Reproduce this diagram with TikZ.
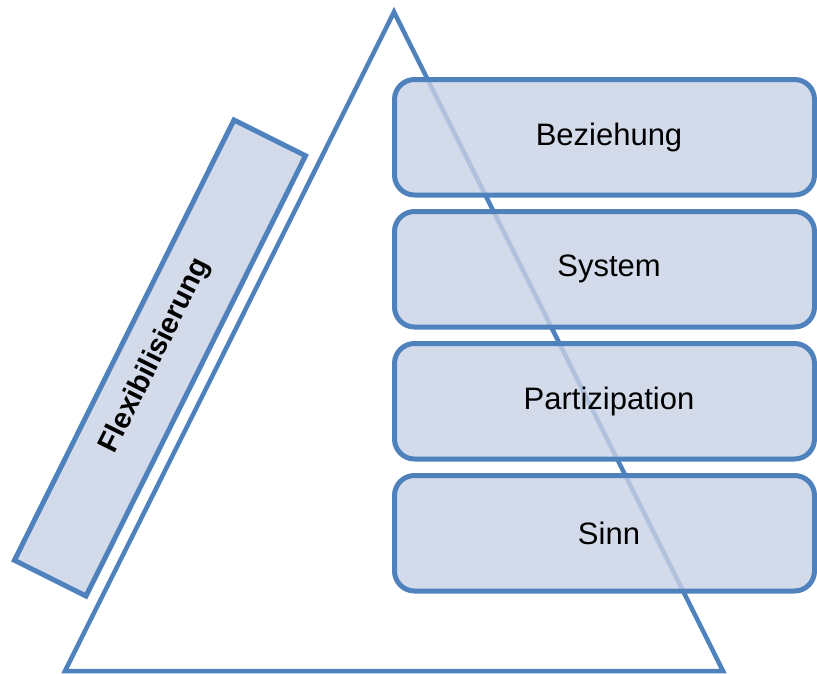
\documentclass[tikz,border=0pt]{standalone}
\usepackage{fontspec}
\setmainfont{Liberation Sans}
\definecolor{edgeblue}{RGB}{79,129,189}
\definecolor{boxfill}{RGB}{200,210,229}
\definecolor{barfill}{RGB}{211,219,234}
\begin{document}
\begin{tikzpicture}[x=1pt,y=-1pt,
  level/.style={draw=edgeblue, line width=5pt, rounded corners=20pt,
    fill=boxfill, fill opacity=0.8, text opacity=1,
    minimum width=420pt, minimum height=115.5pt, inner sep=0pt,
    font=\fontsize{31}{36}\selectfont},
  bar/.style={draw=edgeblue, line width=5pt, fill=barfill,
    minimum width=492pt, minimum height=80pt, inner sep=0pt,
    font=\bfseries\fontsize{29}{34}\selectfont}]
  \useasboundingbox (0,0) rectangle (817,673);
  % pyramid outline
  \coordinate (apex) at (394,12);
  \coordinate (bl) at (65,671);
  \coordinate (br) at (723,671);
  \draw[edgeblue, line width=4.5pt, line join=miter] (apex) -- (br) -- (bl) -- cycle;
  % stacked levels
  \node[level] (l1) at (604.5,137.25) {\hspace*{9pt}Beziehung};
  \node[level] (l2) at (604.5,269.25) {\hspace*{9pt}System};
  \node[level] (l3) at (604.5,401.25) {\hspace*{9pt}Partizipation};
  \node[level] (l4) at (604.5,533.25) {\hspace*{9pt}Sinn};
  % tilted bar
  \node[bar, rotate=63.5] (flex) at (160,358) {\raisebox{16pt}{Flexibilisierung}};
\end{tikzpicture}
\end{document}
